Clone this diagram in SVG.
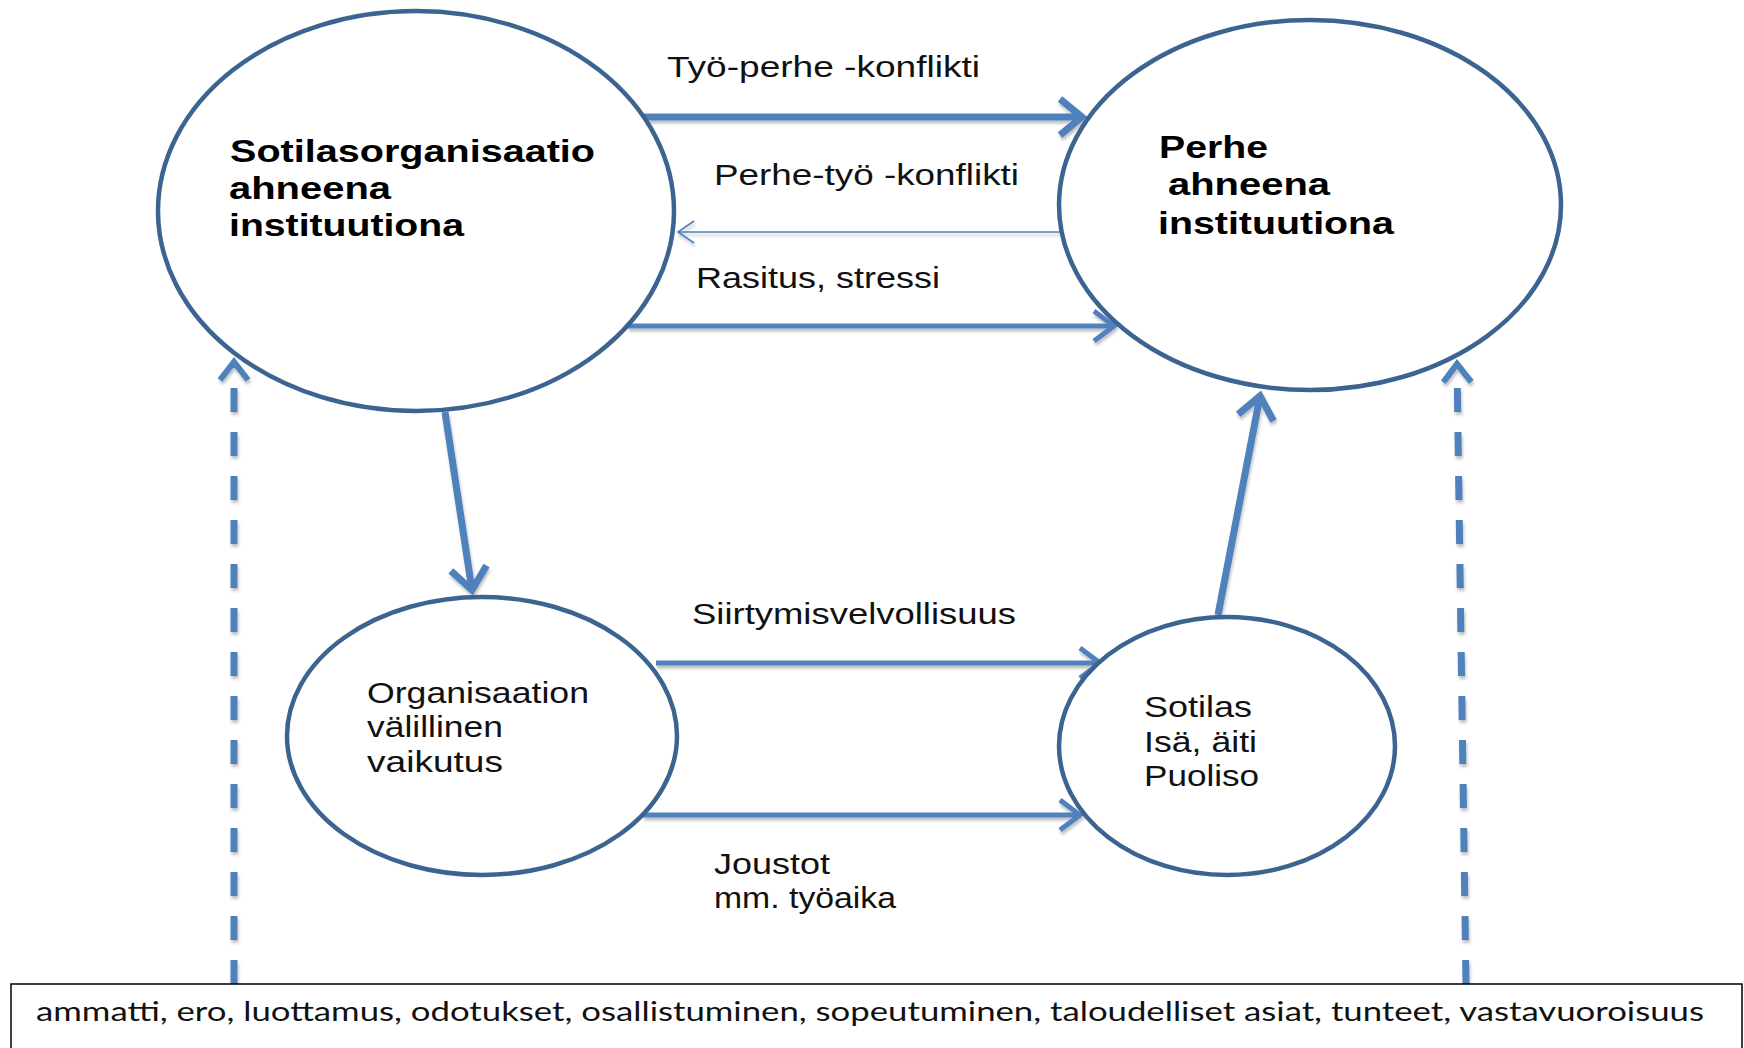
<svg xmlns="http://www.w3.org/2000/svg" width="1744" height="1048" viewBox="0 0 1744 1048">
<style>
.node ellipse{fill:#fff;stroke:#3C6491;stroke-width:4.5}
.lbl{font-family:"Liberation Sans",Arial,sans-serif;font-size:30px;fill:#111}
.bold{font-family:"Liberation Sans",Arial,sans-serif;font-size:32px;font-weight:bold;fill:#000}
.conn{fill:none;stroke:#4F81BD}
.thick{stroke-width:7}
.med{stroke-width:5}
.thin{stroke-width:1.6}
.dash{stroke-width:7;stroke-dasharray:24 20}
.foot{font-family:Lato,"Open Sans",sans-serif;font-size:26px;fill:#111}
</style>
<defs>
<filter id="sh" x="-10%" y="-10%" width="120%" height="140%">
<feDropShadow dx="1" dy="3" stdDeviation="1.5" flood-color="#000" flood-opacity="0.25"/>
</filter>
<marker id="aThick" viewBox="-30 -25 35 50" markerWidth="35" markerHeight="50" refX="0" refY="0" orient="auto" markerUnits="userSpaceOnUse" overflow="visible">
<path d="M-22,-18 L0,0 L-22,18" fill="none" stroke="#4F81BD" stroke-width="7"/>
</marker>
<marker id="aMed" viewBox="-30 -25 35 50" markerWidth="35" markerHeight="50" refX="0" refY="0" orient="auto" markerUnits="userSpaceOnUse" overflow="visible">
<path d="M-20,-15 L0,0 L-20,15" fill="none" stroke="#4F81BD" stroke-width="5"/>
</marker>
<marker id="aThin" viewBox="-30 -25 35 50" markerWidth="35" markerHeight="50" refX="0" refY="0" orient="auto" markerUnits="userSpaceOnUse" overflow="visible">
<path d="M-16,-11 L0,0 L-16,11" fill="none" stroke="#4F81BD" stroke-width="1.6"/>
</marker>
<marker id="aDash" viewBox="-30 -25 35 50" markerWidth="35" markerHeight="50" refX="0" refY="0" orient="auto" markerUnits="userSpaceOnUse" overflow="visible">
<path d="M-18,-14 L0,0 L-18,14" fill="none" stroke="#4F81BD" stroke-width="6"/>
</marker>
</defs>
<rect width="1744" height="1048" fill="#fff"/>

<g id="connectors" filter="url(#sh)">
<path class="conn thick" d="M643,117 L1082,117" marker-end="url(#aThick)"/>
<path class="conn thin" d="M1071,232 L678,232" marker-end="url(#aThin)"/>
<path class="conn med" d="M628,326 L1114,326" marker-end="url(#aMed)"/>
<path class="conn thick" d="M445,412 L472,590" marker-end="url(#aThick)"/>
<path class="conn thick" d="M1218,615 L1260,396" marker-end="url(#aThick)"/>
<path class="conn med" d="M656,663 L1100,663" marker-end="url(#aMed)"/>
<path class="conn med" d="M643,815 L1080,815" marker-end="url(#aMed)"/>
<path class="conn dash" d="M234,984 L234,362" marker-end="url(#aDash)"/>
<path class="conn dash" d="M1466,984 L1457,364" marker-end="url(#aDash)"/>
</g>

<g id="n-sotilasorg" class="node">
<ellipse cx="416" cy="211" rx="258" ry="200"/>
<text class="bold" x="230" y="162" textLength="365" lengthAdjust="spacingAndGlyphs">Sotilasorganisaatio</text>
<text class="bold" x="229" y="199" textLength="162" lengthAdjust="spacingAndGlyphs">ahneena</text>
<text class="bold" x="229" y="236" textLength="235" lengthAdjust="spacingAndGlyphs">instituutiona</text>
</g>

<g id="n-perhe" class="node">
<ellipse cx="1310" cy="205" rx="251" ry="185"/>
<text class="bold" x="1159" y="158" textLength="109" lengthAdjust="spacingAndGlyphs">Perhe</text>
<text class="bold" x="1168" y="195" textLength="162" lengthAdjust="spacingAndGlyphs">ahneena</text>
<text class="bold" x="1158" y="234" textLength="236" lengthAdjust="spacingAndGlyphs">instituutiona</text>
</g>

<g id="n-organisaatio" class="node">
<ellipse cx="482" cy="736" rx="195" ry="139"/>
<text class="lbl" x="367" y="703" textLength="222" lengthAdjust="spacingAndGlyphs">Organisaation</text>
<text class="lbl" x="367" y="737" textLength="136" lengthAdjust="spacingAndGlyphs">välillinen</text>
<text class="lbl" x="367" y="772" textLength="136" lengthAdjust="spacingAndGlyphs">vaikutus</text>
</g>

<g id="n-sotilas" class="node">
<ellipse cx="1227" cy="746" rx="168" ry="129"/>
<text class="lbl" x="1144" y="717" textLength="108" lengthAdjust="spacingAndGlyphs">Sotilas</text>
<text class="lbl" x="1144" y="752" textLength="113" lengthAdjust="spacingAndGlyphs">Isä, äiti</text>
<text class="lbl" x="1144" y="786" textLength="115" lengthAdjust="spacingAndGlyphs">Puoliso</text>
</g>

<g id="labels">
<text class="lbl" x="667" y="77" textLength="313" lengthAdjust="spacingAndGlyphs">Työ-perhe -konflikti</text>
<text class="lbl" x="714" y="185" textLength="305" lengthAdjust="spacingAndGlyphs">Perhe-työ -konflikti</text>
<text class="lbl" x="696" y="288" textLength="244" lengthAdjust="spacingAndGlyphs">Rasitus, stressi</text>
<text class="lbl" x="692" y="624" textLength="324" lengthAdjust="spacingAndGlyphs">Siirtymisvelvollisuus</text>
<text class="lbl" x="714" y="874" textLength="116" lengthAdjust="spacingAndGlyphs">Joustot</text>
<text class="lbl" x="714" y="908" textLength="182" lengthAdjust="spacingAndGlyphs">mm. työaika</text>
</g>

<g id="n-factors">
<rect x="11" y="984" width="1731" height="80" fill="#fff" stroke="#000" stroke-width="1.5"/>
<text class="foot" x="36" y="1021" textLength="1668" lengthAdjust="spacingAndGlyphs">ammatti, ero, luottamus, odotukset, osallistuminen, sopeutuminen, taloudelliset asiat, tunteet, vastavuoroisuus</text>
</g>
</svg>
